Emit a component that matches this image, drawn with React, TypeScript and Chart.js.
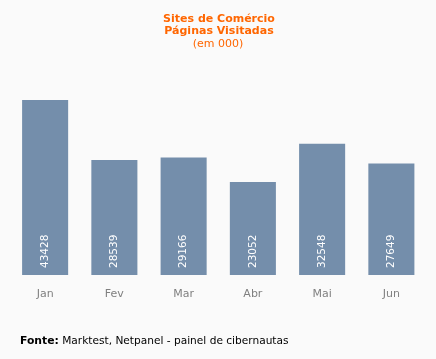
import React, { useEffect, useRef } from "react";
import { Chart, registerables } from "chart.js";

Chart.register(...registerables);

const categories = ["Jan", "Fev", "Mar", "Abr", "Mai", "Jun"];
const values = [43428, 28539, 29166, 23052, 32548, 27649];
const titleLines = ["Sites de Comércio", "Páginas Visitadas"];
const subtitle = "(em 000)";
const sourceLabel = "Fonte:";
const sourceText = " Marktest, Netpanel - painel de cibernautas";

const FONT = "'DejaVu Sans', Verdana, sans-serif";

const textPlugin = {
  id: "textPlugin",
  afterDatasetsDraw(chart: any) {
    const ctx = chart.ctx;
    const meta = chart.getDatasetMeta(0);
    const xScale = chart.scales.x;
    ctx.save();
    // values inside bars
    ctx.fillStyle = "#ffffff";
    ctx.font = `10.5px ${FONT}`;
    ctx.textAlign = "left";
    ctx.textBaseline = "middle";
    meta.data.forEach((bar: any, i: number) => {
      ctx.save();
      ctx.translate(bar.x, bar.base - 7);
      ctx.rotate(-Math.PI / 2);
      ctx.fillText(String(values[i]), 0, 0);
      ctx.restore();
    });
    // x labels
    ctx.fillStyle = "#808080";
    ctx.font = `11px ${FONT}`;
    ctx.textAlign = "center";
    ctx.textBaseline = "middle";
    categories.forEach((c, i) => {
      ctx.fillText(c, xScale.getPixelForValue(i), 294);
    });
    // titles
    ctx.fillStyle = "#ff6600";
    ctx.font = `bold 11px ${FONT}`;
    ctx.fillText(titleLines[0], 219, 19);
    ctx.fillText(titleLines[1], 219, 31);
    ctx.font = `11px ${FONT}`;
    ctx.fillText(subtitle, 218, 44);
    // footer
    ctx.textAlign = "left";
    ctx.fillStyle = "#000000";
    ctx.font = `bold 10.8px ${FONT}`;
    ctx.fillText(sourceLabel, 20, 341);
    const w = ctx.measureText(sourceLabel).width;
    ctx.font = `10.6px ${FONT}`;
    ctx.fillText(sourceText, 20 + w, 341);
    ctx.restore();
  },
};

const bgPlugin = {
  id: "bgPlugin",
  beforeDraw(chart: any) {
    const ctx = chart.ctx;
    ctx.save();
    ctx.fillStyle = "#fafafa";
    ctx.fillRect(0, 0, chart.width, chart.height);
    ctx.restore();
  },
};

export default function App() {
  const ref = useRef<HTMLCanvasElement>(null);
  useEffect(() => {
    document.body.style.margin = "0";
    const chart = new Chart(ref.current!, {
      type: "bar",
      data: {
        labels: categories,
        datasets: [
          {
            data: values,
            backgroundColor: "#748eab",
            categoryPercentage: 1,
            barPercentage: 0.665,
          },
        ],
      },
      options: {
        animation: false,
        responsive: false,
        layout: { padding: { top: 73.5, bottom: 84, left: 10.5, right: 10 } },
        plugins: { legend: { display: false }, tooltip: { enabled: false } },
        scales: {
          x: { display: false },
          y: { display: false, min: 0, max: 50000 },
        },
      },
      plugins: [bgPlugin, textPlugin],
    });
    return () => chart.destroy();
  }, []);
  return (
    <div style={{ width: 436, height: 359 }}>
      <canvas ref={ref} width={436} height={359} />
    </div>
  );
}
